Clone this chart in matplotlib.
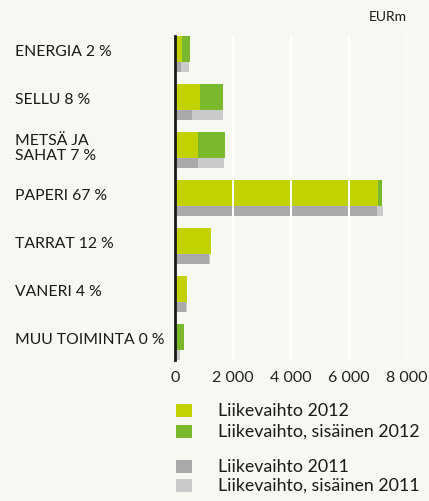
import numpy as np
import matplotlib.pyplot as plt
from matplotlib.patches import Rectangle

plt.rcParams['font.family'] = ['Lato', 'DejaVu Sans']

categories = ['ENERGIA 2 %', 'SELLU 8 %', 'METSÄ JA\nSAHAT 7 %', 'PAPERI 67 %',
              'TARRAT 12 %', 'VANERI 4 %', 'MUU TOIMINTA 0 %']
ext_2012 = [240, 860, 790, 7000, 1240, 410, 0]
int_2012 = [280, 790, 930, 140, 0, 0, 310]
ext_2011 = [200, 590, 790, 6970, 1170, 380, 70]
int_2011 = [280, 1060, 900, 210, 20, 30, 100]
series_labels = ['Liikevaihto 2012', 'Liikevaihto, sisäinen 2012',
                 'Liikevaihto 2011', 'Liikevaihto, sisäinen 2011']
colors = ['#c2d100', '#7ab92b', '#a9a9a9', '#cacaca']
xticks = [0, 2000, 4000, 6000, 8000]
xtick_labels = ['0', '2 000', '4 000', '6 000', '8 000']

bg = '#f6f8f1'
fig = plt.figure(figsize=(4.29, 5.02), dpi=100, facecolor=bg)
ax = fig.add_axes([175 / 429, 1 - 361 / 502, 232 / 429, 324 / 502], facecolor=bg)

y = np.arange(len(categories))
h12, h11 = 26 / 48, 10 / 48
y11 = y + h12 / 2 + h11 / 2

ax.barh(y, ext_2012, height=h12, color=colors[0], zorder=2)
ax.barh(y, int_2012, left=ext_2012, height=h12, color=colors[1], zorder=2)
ax.barh(y11, ext_2011, height=h11, color=colors[2], zorder=2)
ax.barh(y11, int_2011, left=ext_2011, height=h11, color=colors[3], zorder=2)

ax.set_xlim(0, 8000)
ax.set_ylim(y11[-1] + h11 / 2, -h12 / 2)
ax.set_xticks(xticks)
ax.set_xticklabels(xtick_labels, fontsize=11.5, color='#222222')
ax.tick_params(axis='x', length=0, pad=7)
ax.set_yticks([])
ax.set_axisbelow(False)
ax.grid(axis='x', color='white', linewidth=1.5, zorder=2.5)
for s in ['top', 'right', 'bottom']:
    ax.spines[s].set_visible(False)
ax.spines['left'].set_color('#1a1a1a')
ax.spines['left'].set_linewidth(2)
ax.spines['left'].set_zorder(3)

for yi, cat in zip(y, categories):
    ax.text(-160 / 232 * 8000, yi + 0.05, cat, fontsize=11.3,
            ha='left', va='center', color='#1a1a1a', linespacing=1.05)

fig.text(388 / 429, 1 - 17 / 502, 'EURm', fontsize=10, ha='center', va='center', color='#1a1a1a')

legend_y = [411, 432, 467, 486]
for ly, lab, c in zip(legend_y, series_labels, colors):
    fig.patches.append(Rectangle((176 / 429, 1 - (ly + 7) / 502), 16 / 429, 13 / 502,
                                 transform=fig.transFigure, facecolor=c, edgecolor='none'))
    fig.text(218 / 429, 1 - ly / 502, lab, fontsize=12.8, ha='left', va='center', color='#1a1a1a')

fig.savefig('out.png', dpi=100, facecolor=bg)
